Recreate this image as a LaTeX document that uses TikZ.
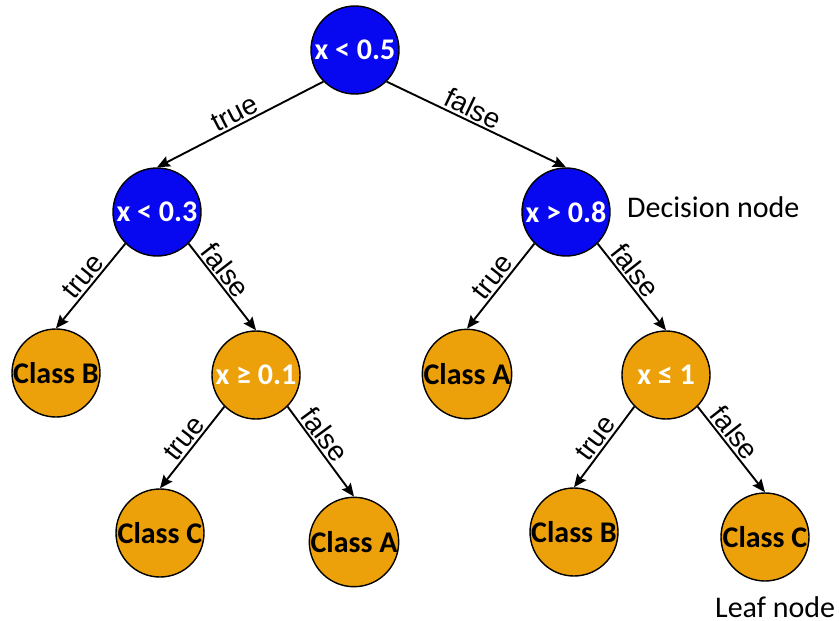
\documentclass[tikz,border=0pt]{standalone}
\usepackage{fontspec}
\setmainfont{Carlito}
\newfontfamily\edgefont{Liberation Sans}
\usetikzlibrary{arrows.meta}
\definecolor{decblue}{RGB}{8,8,240}
\definecolor{treeorange}{RGB}{236,160,10}
\begin{document}
\begin{tikzpicture}[x=1pt,y=-1pt,
  tnode/.style={circle,draw=black,line width=1.4pt,minimum size=88pt,inner sep=0pt,
    font=\fontsize{30}{30}\selectfont\bfseries},
  decb/.style={tnode,fill=decblue,text=white},
  deco/.style={tnode,fill=treeorange,text=white},
  leafo/.style={tnode,fill=treeorange,text=black},
  edge/.style={line width=1.9pt,-{Stealth[length=13pt,width=11pt,inset=2pt]}},
  elabel/.style={sloped,above,inner sep=2pt,font=\edgefont\fontsize{28}{28}\selectfont},
  caption/.style={anchor=west,inner sep=0pt,font=\fontsize{30}{30}\selectfont}]
\useasboundingbox (0,0) rectangle (839,621);

% decision nodes
\node[decb] (root) at (355,50) {x < 0.5};
\node[decb] (l1)   at (157,212) {x < 0.3};
\node[decb] (r1)   at (566,212) {x > 0.8};
\node[deco] (l2)   at (256,375) {x ≥ 0.1};
\node[deco] (r2)   at (666,375) {x ≤ 1};

% leaves
\node[leafo] (cb1) at (56,373)  {Class B};
\node[leafo] (ca1) at (467,374) {Class A};
\node[leafo] (cc1) at (160,533) {Class C};
\node[leafo] (ca2) at (354,542) {Class A};
\node[leafo] (cb2) at (574,532) {Class B};
\node[leafo] (cc2) at (765,537) {Class C};

% captions
\node[caption] (dcap) at (627,207) {Decision node};
\node[caption] (lcap) at (715,607) {Leaf node};

% branches
\draw[edge] (root.-135) -- node[elabel,pos=0.5]  {true}  (l1.north);
\draw[edge] (root.-45)  -- node[elabel,pos=0.45] {false} (r1.north);
\draw[edge] (l1.-135)   -- node[elabel,pos=0.48] {true}  (cb1.north);
\draw[edge] (l1.-45)    -- node[elabel,pos=0.4]  {false} (l2.north);
\draw[edge] (r1.-135)   -- node[elabel,pos=0.48] {true}  (ca1.north);
\draw[edge] (r1.-45)    -- node[elabel,pos=0.4]  {false} (r2.north);
\draw[edge] (l2.-135)   -- node[elabel,pos=0.48] {true}  (cc1.north);
\draw[edge] (l2.-45)    -- node[elabel,pos=0.4]  {false} (ca2.north);
\draw[edge] (r2.-135)   -- node[elabel,pos=0.48] {true}  (cb2.north);
\draw[edge] (r2.-45)    -- node[elabel,pos=0.4]  {false} (cc2.north);
\end{tikzpicture}
\end{document}
